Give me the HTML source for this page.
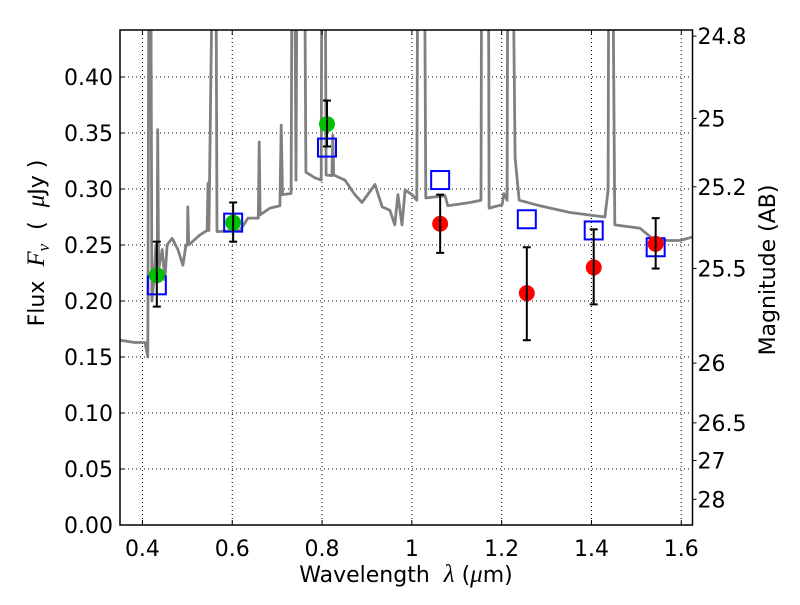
<!DOCTYPE html>
<html><head><meta charset="utf-8"><style>
body{margin:0;background:#fff;}
svg{font-family:"DejaVu Sans","Liberation Sans",sans-serif;}
</style></head><body>
<svg id="chart" width="800" height="600" xmlns="http://www.w3.org/2000/svg">
<rect width="800" height="600" fill="#fff"/>
<defs><clipPath id="clip"><rect x="120" y="30" width="572.5" height="495"/></clipPath></defs>
<g id="grid"></g>
<g id="plot" clip-path="url(#clip)"></g>
<g id="axes"></g>
<text x="406" y="582" font-size="22" text-anchor="middle">Wavelength&#160;&#160;<tspan font-family="Liberation Serif" font-style="italic" font-size="25">λ</tspan>&#160;(<tspan font-family="Liberation Serif" font-style="italic" font-size="25">μ</tspan>m)</text>
<text transform="translate(44,243) rotate(-90)" font-size="22" text-anchor="middle">Flux&#160;&#160;<tspan font-family="Liberation Serif" font-style="italic" font-size="25">F</tspan><tspan font-family="Liberation Serif" font-style="italic" font-size="17" dy="5">ν</tspan><tspan dy="-5">&#160;&#160;(&#160;&#160;</tspan><tspan font-family="Liberation Serif" font-style="italic" font-size="25">μ</tspan>Jy&#160;)</text>
<text transform="translate(775,270) rotate(-90)" font-size="22" text-anchor="middle">Magnitude (AB)</text>
</svg>
<script>
const specWave=[0.350,0.383,0.406,0.412,0.415,0.418,0.421,0.426,0.430,0.433,0.434,0.436,0.444,0.450,0.455,0.466,0.479,0.490,0.497,0.500,0.501,0.503,0.528,0.544,0.546,0.548,0.559,0.563,0.566,0.617,0.635,0.658,0.660,0.662,0.684,0.706,0.709,0.712,0.731,0.734,0.738,0.742,0.745,0.760,0.764,0.784,0.798,0.800,0.806,0.809,0.822,0.824,0.826,0.851,0.873,0.889,0.918,0.934,0.951,0.962,0.969,0.978,0.985,1.000,1.011,1.014,1.027,1.031,1.074,1.080,1.130,1.154,1.156,1.170,1.172,1.201,1.205,1.212,1.214,1.223,1.230,1.239,1.285,1.352,1.430,1.437,1.439,1.446,1.452,1.508,1.541,1.553,1.597,1.624];
const specFlux=[0.165,0.163,0.163,0.150,0.60,0.60,0.20,0.220,0.250,0.250,0.353,0.228,0.246,0.219,0.250,0.256,0.246,0.232,0.250,0.250,0.284,0.250,0.259,0.263,0.305,0.263,0.60,0.60,0.262,0.263,0.274,0.274,0.342,0.277,0.283,0.285,0.357,0.295,0.296,0.60,0.60,0.308,0.60,0.60,0.315,0.310,0.308,0.60,0.60,0.3125,0.312,0.348,0.3125,0.308,0.295,0.288,0.304,0.284,0.281,0.268,0.295,0.268,0.299,0.295,0.290,0.60,0.60,0.292,0.294,0.285,0.288,0.290,0.60,0.60,0.283,0.286,0.296,0.290,0.60,0.60,0.328,0.290,0.285,0.279,0.275,0.299,0.60,0.60,0.268,0.265,0.254,0.254,0.254,0.257];
const greenWave=[0.432,0.602,0.811];
const greenFlux=[0.223,0.270,0.358];
const greenLo=[0.195,0.253,0.338];
const greenHi=[0.253,0.288,0.379];
const redWave=[1.063,1.256,1.405,1.543];
const redFlux=[0.269,0.207,0.230,0.251];
const redLo=[0.243,0.165,0.197,0.229];
const redHi=[0.295,0.248,0.264,0.274];
const modelWave=[0.432,0.602,0.811,1.063,1.256,1.405,1.543];
const modelFlux=[0.214,0.270,0.337,0.308,0.273,0.263,0.248];
const xTicks=[0.4,0.6,0.8,1.0,1.2,1.4,1.6];
const xTickLabels=["0.4","0.6","0.8","1","1.2","1.4","1.6"];
const yTicks=[0,0.05,0.1,0.15,0.2,0.25,0.3,0.35,0.4];
const yTickLabels=["0.00","0.05","0.10","0.15","0.20","0.25","0.30","0.35","0.40"];
const magTicks=[24.8,25,25.2,25.5,26,26.5,27,28];
const magTickLabels=["24.8","25","25.2","25.5","26","26.5","27","28"];

const X0=120,X1=692.5,Y0=525,Y1=30,XMIN=0.350,XMAX=1.625,YMIN=0,YMAX=0.442;
const sx=v=>X0+(v-XMIN)/(XMAX-XMIN)*(X1-X0);
const sy=v=>Y0-(v-YMIN)/(YMAX-YMIN)*(Y0-Y1);
const NS='http://www.w3.org/2000/svg';
function mk(parent,tag,attrs){const e=document.createElementNS(NS,tag);for(const k in attrs)e.setAttribute(k,attrs[k]);parent.appendChild(e);return e;}
const grid=document.getElementById('grid'),plot=document.getElementById('plot'),axes=document.getElementById('axes');

xTicks.forEach((t,i)=>{
  const x=sx(t);
  const g=mk(grid,'line',{x1:x,x2:x,y1:Y1,y2:Y0,stroke:'#000','stroke-width':1,'stroke-dasharray':'1,3'});
  
  
  mk(axes,'line',{x1:x,x2:x,y1:Y0,y2:Y0-5,stroke:'#000'});
  mk(axes,'line',{x1:x,x2:x,y1:Y1,y2:Y1+5,stroke:'#000'});
  const l=mk(axes,'text',{x:x,y:Y0+31,'font-size':22,'text-anchor':'middle'});
  l.textContent=xTickLabels[i];
  
  
});
yTicks.forEach((t,i)=>{
  const y=sy(t);
  const g=mk(grid,'line',{x1:X0,x2:X1,y1:y,y2:y,stroke:'#000','stroke-width':1,'stroke-dasharray':'1,3'});
  
  
  mk(axes,'line',{x1:X0,x2:X0+5,y1:y,y2:y,stroke:'#000'});
  const l=mk(axes,'text',{x:X0-7,y:y+8,'font-size':22,'text-anchor':'end'});
  l.textContent=yTickLabels[i];
  
  
});
magTicks.forEach((m,i)=>{
  const f=Math.pow(10,(23.9-m)/2.5);
  const y=sy(f);
  mk(axes,'line',{x1:X1,x2:X1+4,y1:y,y2:y,stroke:'#000'});
  const l=mk(axes,'text',{x:X1+5,y:y+8,'font-size':22});
  l.textContent=magTickLabels[i];
  
  
});

const pts=specWave.map((w,i)=>sx(w).toFixed(1)+','+sy(specFlux[i]).toFixed(1)).join(' ');
const sp=mk(plot,'polyline',{points:pts,fill:'none',stroke:'#808080','stroke-width':2.8,'stroke-linejoin':'round'});



modelWave.forEach((w,i)=>{
  const r=mk(plot,'rect',{x:sx(w)-9,y:sy(modelFlux[i])-9,width:18,height:18,fill:'none',stroke:'#0000ff','stroke-width':2});
  
  
});
function errs(ws,lo,hi,name){ws.forEach((w,i)=>{
  const x=sx(w),a=sy(lo[i]),b=sy(hi[i]);
  const g=mk(plot,'g',{stroke:'#000','stroke-width':2});
  
  
  mk(g,'line',{x1:x,x2:x,y1:a,y2:b});
  mk(g,'line',{x1:x-4,x2:x+4,y1:a,y2:a});
  mk(g,'line',{x1:x-4,x2:x+4,y1:b,y2:b});
});}
function dots(ws,fs,col,name){ws.forEach((w,i)=>{
  const c=mk(plot,'circle',{cx:sx(w),cy:sy(fs[i]),r:8,fill:col});
  
  
});}
dots(greenWave,greenFlux,'#00c000','green-photometry-point');
errs(greenWave,greenLo,greenHi,'green-error-bar');
dots(redWave,redFlux,'#ff0000','red-photometry-point');
errs(redWave,redLo,redHi,'red-error-bar');

const fr=mk(axes,'rect',{x:X0,y:Y1,width:X1-X0,height:Y0-Y1,fill:'none',stroke:'#000','stroke-width':1.5});


</script>
</body></html>
